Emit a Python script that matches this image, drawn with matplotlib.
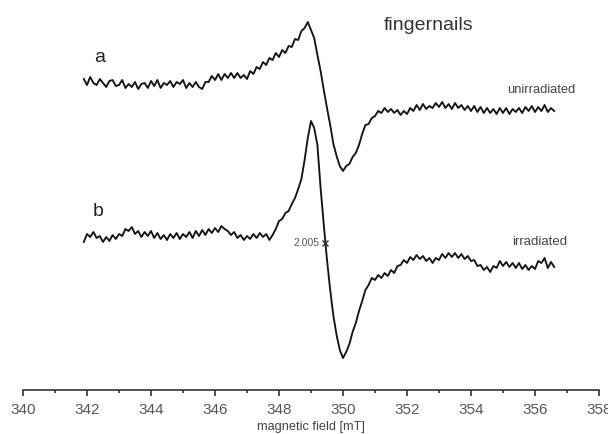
import matplotlib.pyplot as plt
from matplotlib.ticker import MultipleLocator

plt.rcParams['font.family'] = ['Liberation Sans', 'DejaVu Sans']

# magnetic field axis of both scans [mT]
field_mT = [
    341.9, 342.0, 342.1, 342.2, 342.3, 342.4, 342.5, 342.6, 342.7, 342.8,
    342.9, 343.0, 343.1, 343.2, 343.3, 343.4, 343.5, 343.6, 343.7, 343.8,
    343.9, 344.0, 344.1, 344.2, 344.3, 344.4, 344.5, 344.6, 344.7, 344.8,
    344.9, 345.0, 345.1, 345.2, 345.3, 345.4, 345.5, 345.6, 345.7, 345.8,
    345.9, 346.0, 346.1, 346.2, 346.3, 346.4, 346.5, 346.6, 346.7, 346.8,
    346.9, 347.0, 347.1, 347.2, 347.3, 347.4, 347.5, 347.6, 347.7, 347.8,
    347.9, 348.0, 348.1, 348.2, 348.3, 348.4, 348.5, 348.6, 348.7, 348.8,
    348.9, 349.0, 349.1, 349.2, 349.3, 349.4, 349.5, 349.6, 349.7, 349.8,
    349.9, 350.0, 350.1, 350.2, 350.3, 350.4, 350.5, 350.6, 350.7, 350.8,
    350.9, 351.0, 351.1, 351.2, 351.3, 351.4, 351.5, 351.6, 351.7, 351.8,
    351.9, 352.0, 352.1, 352.2, 352.3, 352.4, 352.5, 352.6, 352.7, 352.8,
    352.9, 353.0, 353.1, 353.2, 353.3, 353.4, 353.5, 353.6, 353.7, 353.8,
    353.9, 354.0, 354.1, 354.2, 354.3, 354.4, 354.5, 354.6, 354.7, 354.8,
    354.9, 355.0, 355.1, 355.2, 355.3, 355.4, 355.5, 355.6, 355.7, 355.8,
    355.9, 356.0, 356.1, 356.2, 356.3, 356.4, 356.5, 356.6,
]

# trace a (unirradiated), arbitrary units incl. vertical offset
unirradiated = [
    313, 307, 315, 309, 307, 313, 309, 305, 311, 312,
    306, 307, 312, 304, 308, 305, 310, 303, 308, 309,
    304, 311, 306, 312, 304, 309, 307, 311, 305, 310,
    308, 312, 304, 309, 305, 310, 305, 303, 310, 310,
    316, 312, 318, 312, 318, 314, 319, 314, 319, 314,
    317, 313, 321, 318, 325, 323, 330, 327, 334, 332,
    339, 335, 342, 339, 346, 345, 353, 352, 361, 364,
    370, 362, 354, 337, 321, 302, 284, 267, 248, 236,
    226, 221, 226, 228, 235, 239, 247, 258, 267, 268,
    274, 276, 281, 279, 284, 280, 283, 279, 282, 277,
    281, 278, 284, 281, 287, 282, 288, 283, 286, 284,
    289, 285, 290, 284, 288, 283, 289, 284, 287, 282,
    286, 281, 286, 280, 285, 279, 284, 279, 283, 278,
    284, 279, 284, 278, 283, 280, 284, 279, 285, 281,
    286, 280, 285, 281, 287, 280, 284, 281,
]

# trace b (irradiated)
irradiated = [
    150, 158, 155, 160, 154, 156, 150, 155, 151, 157,
    153, 158, 156, 163, 161, 165, 158, 161, 155, 160,
    156, 161, 154, 159, 153, 157, 152, 158, 154, 159,
    153, 158, 155, 160, 154, 161, 156, 162, 157, 163,
    159, 164, 160, 166, 163, 161, 157, 160, 154, 157,
    152, 156, 153, 158, 154, 159, 155, 158, 152, 157,
    163, 171, 173, 179, 181, 188, 194, 203, 213, 232,
    254, 271, 264, 247, 204, 167, 132, 102, 76, 57,
    42, 34, 40, 48, 60, 69, 81, 91, 102, 107,
    114, 112, 117, 114, 119, 116, 122, 119, 126, 127,
    132, 129, 135, 132, 137, 133, 136, 131, 134, 129,
    134, 132, 138, 134, 139, 135, 139, 134, 138, 133,
    136, 131, 132, 126, 127, 122, 125, 120, 126, 124,
    131, 126, 130, 125, 129, 124, 129, 123, 127, 122,
    126, 123, 131, 129, 134, 124, 130, 125,
]

g_field = 349.45
g_level = 149


def main():
    fig = plt.figure(figsize=(6.08, 4.34), dpi=100)
    ax = fig.add_axes([23 / 608, 1 - 390 / 434, 576 / 608, 390 / 434])

    ax.plot(field_mT, unirradiated, color='#141414', lw=1.35)
    ax.plot(field_mT, irradiated, color='#141414', lw=1.35)
    ax.plot([g_field], [g_level], marker='x', ms=4, mew=1.0, color='#333333')

    ax.text(342.40, 335, 'a', fontsize=14, ha='center', va='center', color='#222222')
    ax.text(342.34, 180, 'b', fontsize=14, ha='center', va='center', color='#222222')
    ax.text(352.67, 367, 'fingernails', fontsize=14, ha='center', va='center', color='#333333')
    ax.text(356.2, 302, 'unirradiated', fontsize=9.3, ha='center', va='center', color='#444444')
    ax.text(356.16, 150, 'irradiated', fontsize=9.5, ha='center', va='center', color='#444444')
    ax.text(g_field - 0.2, g_level, '2.005', fontsize=7.5, ha='right', va='center', color='#555555')

    ax.set_xlim(340, 358)
    ax.set_ylim(2, 392)
    for side in ['left', 'right', 'top']:
        ax.spines[side].set_visible(False)
    ax.spines['bottom'].set_color('#333333')
    ax.spines['bottom'].set_linewidth(1.2)
    ax.set_yticks([])
    ax.xaxis.set_major_locator(MultipleLocator(2))
    ax.xaxis.set_minor_locator(MultipleLocator(1))
    ax.tick_params(axis='x', which='major', length=4.5, width=1.2, pad=4.5,
                   labelsize=11, colors='#333333', labelcolor='#555555')
    ax.tick_params(axis='x', which='minor', length=2.3, width=1.2, colors='#333333')
    ax.set_xlabel('magnetic field [mT]', fontsize=9.2, color='#444444', labelpad=3)
    ax.patch.set_alpha(0)

    fig.savefig('out.png', dpi=100)


if __name__ == '__main__':
    main()
